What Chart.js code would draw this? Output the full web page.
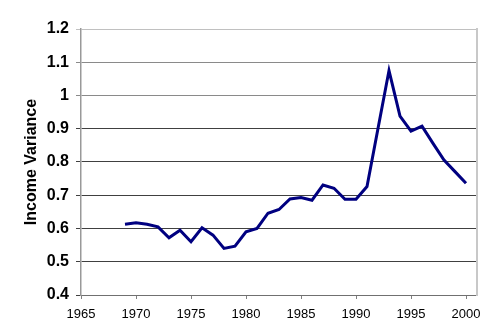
<!DOCTYPE html>
<html>
<head>
<meta charset="utf-8">
<script src="https://cdn.jsdelivr.net/npm/chart.js@4"></script>
<style>
  html, body { margin:0; padding:0; background:#fff; }
  #wrap { width:498px; height:331px; position:relative; }
</style>
</head>
<body>
<div id="wrap"><canvas id="c"></canvas></div>
<script>
// Income variance by year
const years = [1969,1970,1971,1972,1973,1974,1975,1976,1977,1978,1979,1980,1981,1982,1983,1984,
  1985,1986,1987,1988,1989,1990,1991,1992,1993,1994,1995,1996,1997,1998,1999,2000];
const variance = [0.613,0.617,0.613,0.605,0.572,0.595,0.560,0.602,0.580,0.540,0.547,0.590,0.600,0.646,0.657,0.689,
  0.693,0.685,0.731,0.721,0.688,0.688,0.726,0.901,1.075,0.938,0.893,0.908,0.856,0.806,0.771,0.736];

const xTicks = [1965,1970,1975,1980,1985,1990,1995,2000];
const yTicks = [0.4,0.5,0.6,0.7,0.8,0.9,1.0,1.1,1.2];

const FONT = 'Liberation Sans, Arial, sans-serif';

// gridline shade: top edge light, upper lines mid gray, rest dark
const gridColor = c => {
  const v = c.tick ? c.tick.value : 0;
  if (v >= 1.15) return '#c0c0c0';
  if (v >= 0.95) return '#8a8a8a';
  return '#404040';
};

new Chart(document.getElementById('c'), {
  type: 'line',
  data: {
    datasets: [{
      data: years.map((y, i) => ({ x: y, y: variance[i] })),
      borderColor: '#000080',
      borderWidth: 3,
      pointRadius: 0,
      tension: 0,
      fill: false
    }]
  },
  options: {
    responsive: true, maintainAspectRatio: false, animation: false,
    layout: { padding: { top: 29, right: 0, bottom: 0, left: 0 } },
    plugins: { legend: { display: false }, tooltip: { enabled: false } },
    scales: {
      x: {
        type: 'linear', min: 1965, max: 2001,
        afterBuildTicks: s => { s.ticks = xTicks.map(v => ({ value: v })); },
        afterFit: s => { s.height = 36; },
        ticks: { color: '#000', font: { family: FONT, size: 13 }, padding: 8, maxRotation: 0,
                 callback: v => String(v) },
        grid: { drawOnChartArea: false, drawTicks: true, tickLength: 4, color: '#808080' },
        border: { color: '#707070', width: 1 }
      },
      y: {
        min: 0.4, max: 1.2,
        afterBuildTicks: s => { s.ticks = yTicks.map(v => ({ value: v })); },
        afterFit: s => { s.width = 81; },
        ticks: { color: '#000', font: { family: FONT, size: 16, weight: 'bold' }, padding: 7,
                 callback: v => String(+v.toFixed(1)) },
        grid: { color: gridColor, lineWidth: 1, tickLength: 5 },
        border: { color: '#999', width: 1.5 },
        title: { display: true, text: 'Income Variance', color: '#000',
                 font: { family: FONT, size: 16, weight: 'bold' }, padding: { top: 22, bottom: 0 } }
      },
      y2: {
        position: 'right', min: 0.4, max: 1.2,
        afterFit: s => { s.width = 21; },
        ticks: { display: false },
        grid: { drawOnChartArea: false, drawTicks: false },
        border: { color: '#c8c8c8', width: 2 }
      }
    }
  }
});
</script>
</body>
</html>
